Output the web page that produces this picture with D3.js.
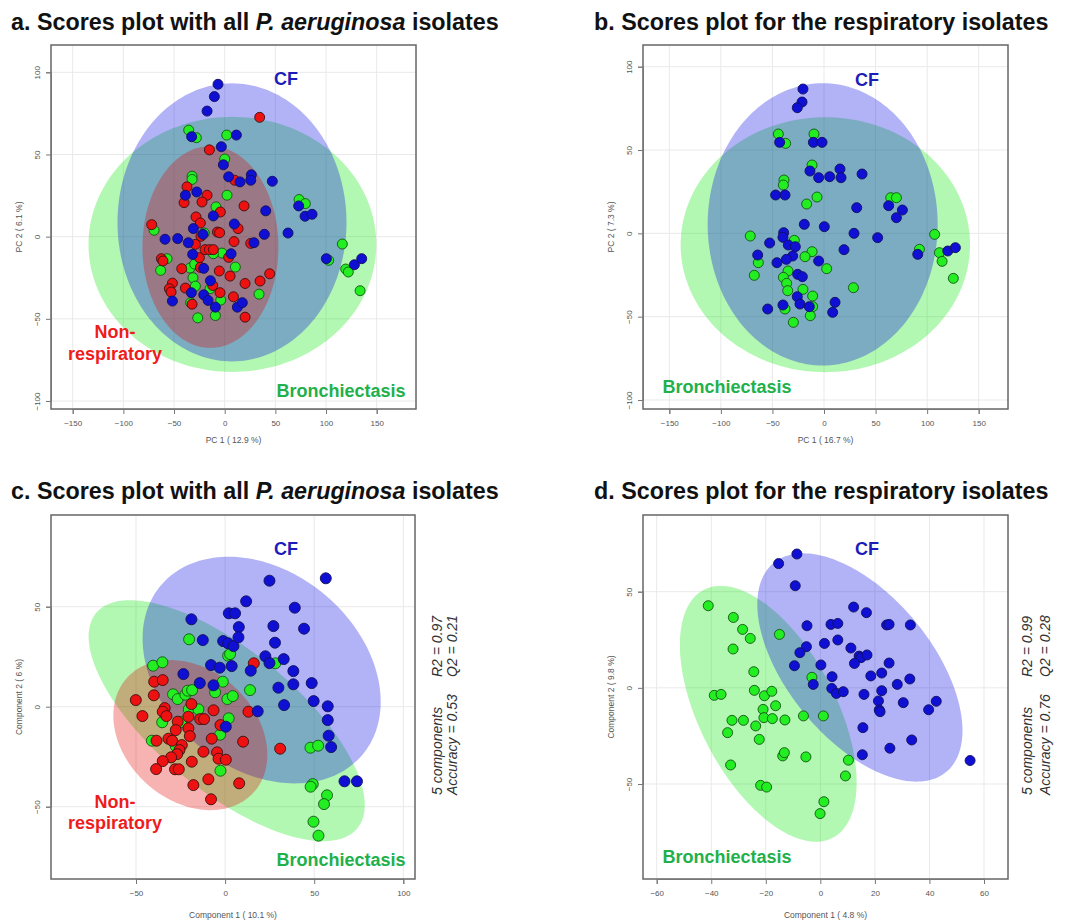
<!DOCTYPE html>
<html><head><meta charset="utf-8">
<script src="https://cdn.jsdelivr.net/npm/d3@7"></script>
<style>body{margin:0;background:#fff}</style></head>
<body>
<svg id="chart" width="1071" height="921"></svg>
<script>
// ---------------- DATA ----------------
const groups = ["Bronchiectasis", "Non-respiratory", "CF"];

const ticksA_x = [-150,-100,-50,0,50,100,150], ticksA_y = [-100,-50,0,50,100];
const ticksB_x = [-150,-100,-50,0,50,100,150], ticksB_y = [-100,-50,0,50,100];
const ticksC_x = [-50,0,50,100], ticksC_y = [-50,0,50];
const ticksD_x = [-60,-40,-20,0,20,40,60], ticksD_y = [-50,0,50];

const titles = ["a. Scores plot with all ", "b. Scores plot for the respiratory isolates",
                "c. Scores plot with all ", "d. Scores plot for the respiratory isolates"];
const xTitles = ["PC 1 ( 12.9 %)", "PC 1 ( 16.7 %)", "Component 1 ( 10.1 %)", "Component 1 ( 4.8 %)"];
const yTitles = ["PC 2 ( 6.1 %)", "PC 2 ( 7.3 %)", "Component 2 ( 6 %)", "Component 2 ( 9.8 %)"];
const statsC = ["5 components", "R2 = 0.97", "Accuracy = 0.53", "Q2 = 0.21"];
const statsD = ["5 components", "R2 = 0.99", "Accuracy = 0.76", "Q2 = 0.28"];

// Panel a: PCA, all isolates
const a_CF = [[-6.6,92.7],[-10.2,85.2],[-17.4,76.4],[-32.6,60.8],[11.5,61.8],[-3.3,54.7],[-1.3,43.7],[3.9,36.4],[15.1,33.3],[26.3,37.6],[25.7,34.3],[47,33.7],[-38.8,25.2],[-27.6,27.2],[-11.2,12.6],[40.5,15.7],[-30.9,4.9],[9.5,7.7],[-58.9,-1.6],[-46.4,-1.2],[-35.9,-3.7],[-21.4,1.4],[39.1,1.4],[62.5,2.2],[28.9,-3.7],[-31.6,-10.8],[6.3,-10.4],[-20.7,-19.3],[-14.1,-26.8],[-32.9,-34.1],[-51.6,-39.2],[-20.7,-35.4],[-16.4,-38.8],[-9.2,-42.9],[12.5,-42.9],[17.4,-40.2],[73,18.7],[79.3,12.4],[86.2,13.6],[100.3,-13.4],[128,-17.1],[135.2,-13.4]];
const a_NonResp = [[34.5,72.6],[-15.1,52.8],[-37.2,30.3],[-17.4,25.2],[-40.1,20.7],[-22.4,21.1],[9.9,34.3],[19.1,18.7],[-4.3,15],[-28.3,12],[-24,8.3],[-72,7.3],[-7.2,2.8],[-5,2.4],[13.2,4.9],[-23.4,0.2],[-28.9,-4.7],[9.2,-3],[25.7,-4.1],[-19.4,-7.9],[-15.1,-7.9],[-11.2,-7.9],[-25,-12.8],[-62.5,-13.4],[-60.9,-14.8],[3.9,-12.6],[-42.4,-19.5],[-24,-18.7],[-5.3,-20.9],[5.3,-24],[44.4,-22.6],[34.9,-27],[20.1,-28.5],[-51.6,-28.3],[-54.6,-31.7],[-52.9,-33.7],[-38.8,-31.3],[-11.8,-29.7],[-4.6,-34.1],[8.6,-36.6],[-32.2,-41.1],[20.1,-49]];
const a_Bronch = [[-35.5,64.8],[-28,60.2],[2,61.8],[0,47.2],[-32.2,36.8],[-32.2,34.8],[2.3,25.2],[-8.6,18.1],[-69.7,3.9],[-20.1,2.2],[-56.9,-13.4],[-2.6,-10],[-11.2,-10.4],[-63.2,-20.5],[10.5,-18.5],[-34.2,-19.1],[-29.6,-16.7],[-31.3,-25],[-28.9,-30.1],[-14.5,-31.7],[-3.9,-38.6],[-33.6,-40.2],[-26.6,-49.4],[-9.2,-48],[33.9,-35],[73.4,22.6],[79.6,20.1],[102.6,-14.4],[116.1,-4.5],[119.4,-19.7],[122,-21.5],[133.6,-32.9]];

// Panel b: PCA, respiratory isolates
const b_CF = [[-20.4,86.6],[-21.3,78.8],[-25.9,75.4],[-43,54.6],[-10.3,54.6],[-1.9,54.6],[-13.6,37.4],[-5.2,33.4],[5.5,34],[15.5,38.6],[16.5,33.4],[36.9,35.6],[-46.9,23],[-37.8,23],[31.7,15.4],[62.7,16.6],[76,14],[70.2,9.4],[-19.1,5.4],[0.3,4],[29.1,0],[52,-2.6],[-39.1,0.4],[-39.8,-2.4],[-52.7,-5.8],[-34.6,-7],[-27.8,-8],[-64.3,-13],[-30.4,-13.6],[-36.5,-15.6],[-45.6,-17.6],[-5.2,-16.6],[19.4,-9.8],[-25.5,-24.6],[-21,-26],[-25.9,-38],[-23.3,-42.4],[-39.8,-43],[-54.6,-45.4],[-14.2,-44],[10.7,-41.4],[8.4,-47.4],[90.9,-12.6],[120,-10.6],[127.4,-8.6]];
const b_Bronch = [[-44.3,59.6],[-9.7,59.6],[-37.2,54],[-11.6,41],[-38.8,32],[-39.4,29],[-6.8,21.8],[-16.8,17.6],[-71.5,-1.6],[-28.8,-4.2],[-11.6,-11],[-18.4,-14],[-63.7,-17.6],[2.6,-21.2],[-67.6,-25.2],[-34.9,-22.6],[-39.4,-26.4],[-36.2,-30],[-35.2,-34.4],[-20.4,-33.6],[-11,-37.6],[28.5,-32.6],[-37.8,-45.4],[-11,-44],[-13.3,-49.4],[-29.7,-53.4],[64.7,21.4],[70.2,21.4],[107.3,-0.6],[92.5,-9.6],[111.9,-11.6],[114.5,-16.8],[125.4,-27]];

// Panel c: PLS-DA, all isolates
const c_CF = [[24.9,63],[56.5,64.2],[11.8,52.7],[39.1,49.5],[-18.9,43.7],[2.1,46.7],[5.6,46.7],[7.7,39.8],[27.1,40.3],[44.3,39],[-12.5,33.3],[-1.1,32.8],[1.7,31.7],[4.7,30.3],[7.5,34.7],[28,32],[22.6,25.2],[24.9,21.8],[32.9,23.8],[-7.9,20.8],[-3,19.5],[3.7,20.3],[14.4,18],[38.3,17.8],[-23.4,16.3],[-14.2,11.8],[-6.5,10.7],[29.9,9.5],[38.3,11.2],[48.6,11.8],[49.7,2.8],[33.1,0.8],[18.3,-2.3],[57.6,0.2],[57.6,-6.7],[58.1,-14.5],[59.5,-20.2],[0.4,-10],[67,-37.3],[74,-37.3]];
const c_NonResp = [[16.1,21.7],[-39.8,12.5],[-35,13.3],[-50.1,3.3],[-40,5.7],[-46.4,-4.7],[-33.9,-0.7],[-35,-2.5],[-32.9,-4.7],[-18.9,1.3],[-20.6,-5],[-14,-6.2],[-11.8,-6.2],[-6.5,-1.8],[-26.6,-7.5],[-27.7,-11.7],[-20.6,-10.8],[-19.8,-14.7],[-2.6,-9.2],[13.1,-2.5],[-38.5,-17],[-31.8,-16],[-29.7,-17],[-7.5,-16],[10.1,-17.5],[30.9,-21],[-24.3,-19.2],[-25.6,-21.7],[-26.9,-23.7],[-30.3,-25.3],[-35,-27.2],[-12.2,-22.5],[-4.5,-22.8],[-3.7,-26],[0.4,-26.5],[-18.7,-27.5],[-38.7,-31.2],[-28.1,-31.3],[-26,-31.3],[-17.8,-39.2],[-9.4,-36.3],[7.9,-38.3],[-7.9,-46.3]];
const c_Bronch = [[-20.2,33.7],[-40.4,20.5],[-35.2,22.2],[1.7,25.5],[2.8,26.3],[28.2,21.7],[14,8.3],[-29.2,6.2],[-26.6,3.8],[-22.3,6],[-21,8],[-18.5,8.3],[-5.6,7.2],[-1.3,12.5],[1.3,3.8],[4.3,5.3],[-20.4,-1.3],[-15,-1.3],[-24.7,-7.7],[-35.3,-7.8],[2,-5.8],[-2.8,-14],[-41.1,-17],[-27.7,-19.7],[-2.6,-32],[47.9,-20.5],[52.2,-19.5],[49.2,-38.7],[48,-40],[57.2,-44.3],[55.5,-48.7],[49.6,-57.5],[52.4,-64.5]];

// Panel d: PLS-DA, respiratory isolates
const d_CF = [[-8.6,69.6],[-15.3,64.6],[-9.2,53.1],[12.2,42],[16.9,39.1],[-4.9,32.3],[3.9,33],[6.4,33.5],[24.3,32.7],[25.2,33],[33,32.7],[-5.1,21.4],[1.5,23.1],[6.4,24.9],[11.2,20.7],[-7.5,18.3],[14.2,16.5],[14.9,15.7],[17.1,17.1],[12.5,12.7],[-9.5,11.5],[0.2,11.9],[25.2,12.9],[18.5,6.2],[22.5,7.7],[4.3,5.8],[-2.6,1.8],[4.2,-0.3],[5.9,-2.9],[8.4,-2],[22.5,-1.5],[28.2,1.8],[32.8,4.6],[16,-3.4],[21.3,-6.8],[30.4,-7.7],[42.5,-7],[21.6,-11.5],[21.9,-12.4],[39.7,-11.4],[15.6,-20.7],[25.5,-31.4],[33.5,-27.1],[15.4,-34.8],[54.9,-37.8]];
const d_Bronch = [[-41.1,42.7],[-31.9,36.6],[-28.5,30.4],[-25.7,25.7],[-32,20.2],[-15,27.8],[-24.4,8.4],[-24.2,-1.3],[-20.5,-4.1],[-17.8,-1.8],[-38.9,-3.9],[-36.4,-3.4],[-16.4,-9.3],[-21,-11.2],[-20.7,-15.5],[-17.6,-16],[-13,-16.7],[-32.4,-16.9],[-28.2,-16.9],[-3.1,5.5],[-6.2,-14.6],[1.1,-14.6],[-23.7,-19.8],[-34,-23.3],[-22.4,-26.8],[-13.8,-35.4],[-13.2,-33.7],[-5.3,-35.9],[10.3,-37.6],[9.2,-45.8],[-32.9,-40.1],[-21.9,-50.7],[-19.7,-51.6],[1.3,-59.2],[-0.1,-65.4]];

// Confidence ellipses: centre and two conjugate semi-axis vectors, in data units
const a_ellipses = [
  {g:"Bronchiectasis", cx:7.6, cy:-4.7, ax:142, ay:0, bx:0, by:77.6},
  {g:"CF", cx:7.2, cy:8.7, ax:113, ay:0, bx:0, by:84.6},
  {g:"Non-respiratory", cx:-14.1, cy:-6.3, ax:67.1, ay:0, bx:0, by:61.4}];
const b_ellipses = [
  {g:"Bronchiectasis", cx:1.3, cy:-6.8, ax:140.3, ay:0, bx:0, by:76.5},
  {g:"CF", cx:-1.3, cy:5.4, ax:111.5, ay:0, bx:0, by:84.7}];
const c_ellipses = [
  {g:"Bronchiectasis", cx:0.9, cy:-7, ax:73.3, ay:-53.8, bx:-25.1, by:-27.1},
  {g:"CF", cx:20.5, cy:18.3, ax:56.6, ay:-42.3, bx:-35.5, by:-37.7},
  {g:"Non-respiratory", cx:-19.5, cy:-14.2, ax:35.6, ay:-28.6, bx:-24.5, by:-24.3}];
const d_ellipses = [
  {g:"Bronchiectasis", cx:-19.1, cy:-13.5, ax:23.6, ay:-64.5, bx:-22.2, by:-16.3},
  {g:"CF", cx:14.5, cy:10.6, ax:31.6, ay:-54.4, bx:-20.4, by:-23.8}];

// ---------------- STYLE / LAYOUT ----------------
const pointColor = {"CF":"#1010d4", "Non-respiratory":"#ee1111", "Bronchiectasis":"#22ee22"};
const pointStroke = {"CF":"#10105a", "Non-respiratory":"#3a1010", "Bronchiectasis":"#145214"};
const ellColor = {"CF":"#0000e6", "Non-respiratory":"#e60000", "Bronchiectasis":"#00e600"};
const labelColor = {"CF":"#1c1cb8", "Non-respiratory":"#ee1c1c", "Bronchiectasis":"#22b04a"};

const panels = [
  {frame:[51,45,416,409], xd:[-150,150], xr:[72.7,376.7], yd:[-100,100], yr:[401,72.3],
   xt:ticksA_x, yt:ticksA_y, ell:a_ellipses, pts:[["Bronchiectasis",a_Bronch],["Non-respiratory",a_NonResp],["CF",a_CF]],
   r:5, title:0, titleXY:[11,30], xTitleY:443, yTitleX:19,
   labels:[["CF","CF",286,85],["Non-respiratory","Non-",115,338],["Non-respiratory","respiratory",115,360],["Bronchiectasis","Bronchiectasis",341,397]]},
  {frame:[643,45,1008,409], xd:[-150,150], xr:[669.3,978.7], yd:[-100,100], yr:[400,66.7],
   xt:ticksB_x, yt:ticksB_y, ell:b_ellipses, pts:[["Bronchiectasis",b_Bronch],["CF",b_CF]],
   r:5, title:1, titleXY:[594,30], xTitleY:443, yTitleX:611,
   labels:[["CF","CF",867,86],["Bronchiectasis","Bronchiectasis",727,393]]},
  {frame:[51,515,415,879], xd:[-50,100], xr:[136,403.3], yd:[-50,50], yr:[806.7,606.7],
   xt:ticksC_x, yt:ticksC_y, ell:c_ellipses, pts:[["Bronchiectasis",c_Bronch],["Non-respiratory",c_NonResp],["CF",c_CF]],
   r:5.5, title:2, titleXY:[11,499], xTitleY:918, yTitleX:19, stats:statsC, statsX:[437,452],
   labels:[["CF","CF",286,555],["Non-respiratory","Non-",115,808],["Non-respiratory","respiratory",115,829],["Bronchiectasis","Bronchiectasis",341,866]]},
  {frame:[643,515,1008,879], xd:[-60,60], xr:[656.7,984], yd:[-50,50], yr:[784,591.7],
   xt:ticksD_x, yt:ticksD_y, ell:d_ellipses, pts:[["Bronchiectasis",d_Bronch],["CF",d_CF]],
   r:5, title:3, titleXY:[594,499], xTitleY:918, yTitleX:611, stats:statsD, statsX:[1027,1045],
   labels:[["CF","CF",867,555],["Bronchiectasis","Bronchiectasis",727,863]]}
];

const svg = d3.select("#chart");
svg.append("rect").attr("width",1071).attr("height",921).attr("fill","#fff");
const FONT = "'Liberation Sans', Arial, sans-serif";

panels.forEach(p => {
  const [L,T,R,B] = p.frame;
  const x = d3.scaleLinear().domain(p.xd).range(p.xr);
  const y = d3.scaleLinear().domain(p.yd).range(p.yr);
  const g = svg.append("g");

  // grid
  g.selectAll(".vg").data(p.xt).join("line")
    .attr("x1",d=>x(d)).attr("x2",d=>x(d)).attr("y1",T).attr("y2",B)
    .attr("stroke","#e9e9e9").attr("stroke-width",1);
  g.selectAll(".hg").data(p.yt).join("line")
    .attr("y1",d=>y(d)).attr("y2",d=>y(d)).attr("x1",L).attr("x2",R)
    .attr("stroke","#e9e9e9").attr("stroke-width",1);

  // ellipses
  const ellPath = e => d3.line()(d3.range(0,361,2).map(t => {
    const a = t*Math.PI/180;
    return [x(e.cx + e.ax*Math.cos(a) + e.bx*Math.sin(a)), y(e.cy + e.ay*Math.cos(a) + e.by*Math.sin(a))];
  })) + "Z";
  g.selectAll(".ell").data(p.ell).join("path")
    .attr("d", ellPath).attr("fill", d=>ellColor[d.g]).attr("fill-opacity",0.3).attr("stroke","none");

  // points
  p.pts.forEach(([grp, arr]) => {
    g.append("g").selectAll("circle").data(arr).join("circle")
      .attr("cx", d=>x(d[0])).attr("cy", d=>y(d[1])).attr("r", p.r)
      .attr("fill", pointColor[grp]).attr("stroke", pointStroke[grp]).attr("stroke-width",0.9);
  });

  // frame
  g.append("rect").attr("x",L).attr("y",T).attr("width",R-L).attr("height",B-T)
    .attr("fill","none").attr("stroke","#666").attr("stroke-width",1.5);

  // axes (R style)
  const xa = d3.axisBottom(x).tickValues(p.xt).tickSize(5).tickPadding(6);
  const xg = g.append("g").attr("transform",`translate(0,${B})`).call(xa);
  const ya = d3.axisLeft(y).tickValues(p.yt).tickSize(5).tickPadding(4);
  const yg = g.append("g").attr("transform",`translate(${L},0)`).call(ya);
  [xg,yg].forEach(ax => {
    ax.select(".domain").attr("stroke","#777");
    ax.selectAll(".tick line").attr("stroke","#777");
    ax.selectAll(".tick text").attr("fill","#555").style("font-family",FONT).style("font-size","8px");
  });
  yg.selectAll(".tick text").attr("transform","rotate(-90)").attr("x",0).attr("y",-11)
    .attr("dy","0").attr("text-anchor","middle");

  // axis titles
  g.append("text").attr("x",(L+R)/2).attr("y",p.xTitleY).attr("text-anchor","middle")
    .style("font-family",FONT).style("font-size","8.5px").attr("fill","#555").text(xTitles[p.title]);
  g.append("text").attr("transform",`translate(${p.yTitleX},${(T+B)/2}) rotate(-90)`)
    .attr("text-anchor","middle").attr("dy","0.35em")
    .style("font-family",FONT).style("font-size","8.5px").attr("fill","#555").text(yTitles[p.title]);

  // panel title
  const tt = g.append("text").attr("x",p.titleXY[0]).attr("y",p.titleXY[1])
    .style("font-family",FONT).style("font-size","23.3px").style("font-weight","bold").attr("fill","#111");
  tt.append("tspan").text(titles[p.title]);
  if (p.title === 0 || p.title === 2) {
    tt.append("tspan").style("font-style","italic").text("P. aeruginosa");
    tt.append("tspan").text(" isolates");
  }

  // group labels
  p.labels.forEach(([grp, txt, lx, ly]) => {
    g.append("text").attr("x",lx).attr("y",ly).attr("text-anchor","middle")
      .style("font-family",FONT).style("font-size","18px").style("font-weight","bold")
      .attr("fill",labelColor[grp]).text(txt);
  });

  // model stats (rotated)
  if (p.stats) {
    const base = B - 84, second = B - 202;
    [[p.stats[0], p.statsX[0], base],[p.stats[1], p.statsX[0], second],
     [p.stats[2], p.statsX[1], base],[p.stats[3], p.statsX[1], second]].forEach(([t, sx, sy]) => {
      g.append("text").attr("transform",`translate(${sx},${sy}) rotate(-90)`)
        .attr("dy","0.35em").style("font-family",FONT).style("font-size","14px")
        .style("font-style","italic").attr("fill","#333").text(t);
    });
  }
});
</script>
</body></html>
